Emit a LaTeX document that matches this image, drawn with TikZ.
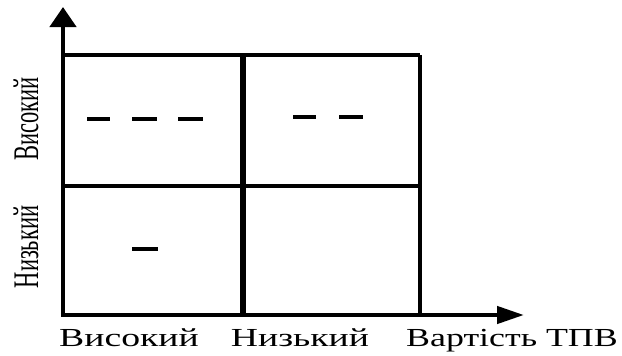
\documentclass[tikz,border=0pt]{standalone}
\usepackage{fontspec}
\setmainfont{Liberation Serif}
\usetikzlibrary{arrows.meta}
\tikzset{
  hlabel/.style={inner sep=0pt, anchor=base, font=\fontsize{26}{26}\selectfont},
  vlabel/.style={inner sep=0pt, rotate=90, font=\fontsize{22.5}{22.5}\selectfont},
  gridline/.style={line width=3.2pt, line join=round},
  vline/.style={line width=4.2pt, line join=round},
  midv/.style={line width=5.5pt},
  axisline/.style={line width=4.4pt},
  mark dash/.style={line width=3.4pt},
}
\newcommand{\hstretch}[1]{\scalebox{1.45}[1]{#1}}
\newcommand{\hstretchb}[1]{\scalebox{1.38}[1]{#1}}
\newcommand{\vstretch}[1]{\scalebox{1}[1.6]{#1}}
\begin{document}
\begin{tikzpicture}[x=1pt,y=-1pt]
\useasboundingbox (0,0) rectangle (622,356);
\coordinate (O) at (63,315);
\coordinate (Ytip) at (63,7);
\coordinate (Xtip) at (524,315);
\coordinate (TL) at (63,55);
\coordinate (TM) at (243,55);
\coordinate (TR) at (420,55);
\coordinate (ML) at (63,186);
\coordinate (MR) at (420,186);
\coordinate (BM) at (243,315);
\coordinate (BR) at (420,315);
% grid
\draw[gridline] (TL) -- (TR);
\draw[gridline] (ML) -- (MR);
\draw[vline] (TR) -- (BR);
\draw[midv] (TM) -- (BM);
% axes
\draw[axisline, -{Triangle[length=20pt,width=26pt]}] (O) -- (Ytip);
\draw[axisline, -{Triangle[length=27pt,width=17pt]}] ([xshift=-2.2pt]O) -- (Xtip);
% marks
\draw[mark dash] (87,119) -- (110,119);
\draw[mark dash] (132,119) -- (157,119);
\draw[mark dash] (178,119) -- (203,119);
\draw[mark dash] (293,117) -- (316,117);
\draw[mark dash] (339,117) -- (363,117);
\draw[mark dash] (132,249) -- (158,249);
% labels
\node[hlabel] (xa) at (129,346) {\hstretch{Високий}};
\node[hlabel] (xb) at (300,346) {\hstretch{Низький}};
\node[hlabel] (xc) at (512,346) {\hstretchb{Вартість ТПВ}};
\node[vlabel] (ya) at (26,119) {\vstretch{Високий}};
\node[vlabel] (yb) at (26,247) {\vstretch{Низький}};
\end{tikzpicture}
\end{document}
